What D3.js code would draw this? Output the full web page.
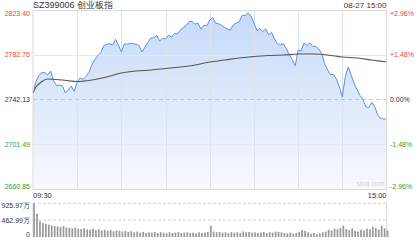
<!DOCTYPE html>
<html>
<head>
<meta charset="utf-8">
<script src="https://cdn.jsdelivr.net/npm/d3@7"></script>
<style>
  body { margin: 0; background: #fff; }
  svg { display: block; font-family: "Liberation Sans", Arial, sans-serif; }
</style>
</head>
<body>
<svg width="420" height="240"></svg>
<script>
// prices sampled every 2 trading minutes (09:30 .. 15:00)
var prices = [
  2748.02, 2758.45, 2763.90, 2766.62, 2766.53, 2764.35, 2767.98, 2759.27, 2754.65, 2755.28,
  2754.37, 2748.02, 2750.75, 2754.37, 2749.39, 2758.00, 2761.63, 2760.36, 2763.17, 2766.62,
  2773.87, 2778.32, 2782.03, 2784.75, 2791.01, 2792.19, 2792.74, 2791.56, 2796.73, 2791.65,
  2785.21, 2792.64, 2792.28, 2793.19, 2792.92, 2792.28, 2791.01, 2785.21, 2789.74, 2794.10,
  2797.90, 2798.18, 2800.17, 2795.27, 2797.90, 2797.09, 2800.44, 2798.81, 2802.08, 2801.53,
  2805.16, 2807.43, 2809.42, 2812.69, 2813.14, 2810.42, 2811.51, 2806.07, 2809.51, 2809.33,
  2814.23, 2816.50, 2811.51, 2810.87, 2809.51, 2807.52, 2806.07, 2805.16, 2809.88, 2811.51,
  2812.87, 2818.58, 2818.49, 2820.76, 2817.86, 2811.78, 2804.89, 2806.61, 2803.71, 2806.25,
  2800.99, 2803.07, 2797.00, 2792.74, 2792.01, 2792.74, 2788.38, 2782.67, 2778.41, 2772.69,
  2787.02, 2786.11, 2793.46, 2791.19, 2793.55, 2790.29, 2790.38, 2788.02, 2783.94, 2774.60,
  2768.88, 2764.62, 2764.98, 2760.63, 2753.74, 2744.40, 2762.72, 2771.60, 2764.26, 2756.82,
  2751.20, 2745.85, 2742.31, 2735.33, 2734.69, 2739.59, 2735.51, 2728.25, 2724.90, 2724.45,
  2724.45
];

// average price line, read at a few sample indexes
var avgIdx = [0, 1, 2, 3, 5, 10, 15, 20, 25, 30, 35, 40, 45, 50, 55, 60, 65, 70, 75, 80, 85, 90, 95, 100, 105, 110, 115, 120];
var avgVal = [2748.02, 2753.47, 2756.19, 2758.45, 2760.72, 2759.81, 2758.45, 2759.81, 2762.54, 2766.16,
  2767.98, 2768.88, 2770.24, 2771.60, 2773.42, 2776.14, 2777.95, 2779.77, 2781.13, 2782.03,
  2782.49, 2783.39, 2783.39, 2782.49, 2780.67, 2779.77, 2777.95, 2776.14];

// volume, 万
var volumes = [
  925.97, 640, 430, 380, 360, 340, 320, 300, 290, 270,
  300, 260, 250, 240, 260, 230, 220, 240, 210, 200,
  230, 190, 210, 180, 200, 170, 190, 160, 180, 170,
  150, 170, 140, 160, 130, 150, 120, 140, 110, 130,
  120, 140, 110, 130, 120, 100, 130, 110, 120, 140,
  110, 120, 130, 110, 120, 100, 130, 110, 120, 140,
  310, 150, 130, 140, 120, 130, 110, 140, 120, 130,
  110, 150, 130, 140, 120, 130, 110, 120, 140, 110,
  130, 120, 150, 140, 130, 110, 100, 120, 90, 110,
  140, 190, 170, 130, 90, 110, 80, 100, 130, 150,
  200, 180, 230, 210, 250, 310, 220, 190, 240, 170,
  150, 200, 180, 230, 210, 280, 250, 200, 310, 240,
  180
];

var basePrice = 2742.13;
var priceTicks = [2823.40, 2782.76, 2742.13, 2701.49, 2660.85];
var pctTicks = ["+2.96%", "+1.48%", "0.00%", "-1.48%", "-2.96%"];
var volTicks = [925.97, 462.99, 0];
var volLabels = ["925.97万", "462.99万", "0"];
var title = "SZ399006 创业板指";
var stamp = "08-27 15:00";

var svg = d3.select("svg");
var plotLeft = 33, plotRight = 386.5, plotTop = 10, plotBottom = 189;
var vTop = 203.3, vBottom = 237;

var x = d3.scaleLinear().domain([0, prices.length - 1]).range([plotLeft, plotRight]);
var y = d3.scaleLinear().domain([2660.85, 2823.40]).range([plotBottom, plotTop]);
var yv = d3.scaleLinear().domain([0, 925.97]).range([vBottom, vTop]);

function tickColor(i) {
  return i < 2 ? "#e8453c" : (i == 2 ? "#333" : "#2aa33a");
}

// gradient for area
var grad = svg.append("defs").append("linearGradient")
  .attr("id", "fillGrad").attr("x1", 0).attr("y1", 0).attr("x2", 0).attr("y2", 1);
grad.append("stop").attr("offset", "0%").attr("stop-color", "#c6daf8");
grad.append("stop").attr("offset", "100%").attr("stop-color", "#f7f9fe");

// area + price line
var area = d3.area()
  .x(function (d, i) { return x(i); })
  .y0(plotBottom)
  .y1(function (d) { return y(d); });
svg.append("path").datum(prices).attr("d", area).attr("fill", "url(#fillGrad)");

// grid
var grid = svg.append("g");
d3.range(1, 8).forEach(function (k) {
  var gx = Math.round(plotLeft + (plotRight - plotLeft) * k / 8) + 0.5;
  grid.append("line").attr("x1", gx).attr("x2", gx).attr("y1", plotTop).attr("y2", plotBottom)
    .attr("stroke", "#dde3ec").attr("stroke-width", 1);
});
priceTicks.forEach(function (p, i) {
  if (i == 0 || i == 4) return;
  grid.append("line").attr("x1", plotLeft).attr("x2", plotRight)
    .attr("y1", Math.round(y(p)) + 0.5).attr("y2", Math.round(y(p)) + 0.5)
    .attr("stroke", i == 2 ? "#c4c4c4" : "#e6e9ee")
    .attr("stroke-dasharray", i == 2 ? "4,3" : null);
});

var line = d3.line()
  .x(function (d, i) { return x(i); })
  .y(function (d) { return y(d); });
svg.append("path").datum(prices).attr("d", line)
  .attr("fill", "none").attr("stroke", "#5d8fe6").attr("stroke-width", 1);

var avgLine = d3.line()
  .curve(d3.curveMonotoneX)
  .x(function (d, i) { return x(avgIdx[i]); })
  .y(function (d) { return y(d); });
svg.append("path").datum(avgVal).attr("d", avgLine)
  .attr("fill", "none").attr("stroke", "#555").attr("stroke-width", 1.1);

// borders main panel
svg.append("rect").attr("x", plotLeft).attr("y", plotTop + 0.5).attr("width", plotRight - plotLeft).attr("height", plotBottom - plotTop)
  .attr("fill", "none").attr("stroke", "#dcdcdc");

// watermark
svg.append("text").attr("x", plotRight - 2).attr("y", plotBottom - 3).attr("text-anchor", "end")
  .attr("font-size", 7).attr("fill", "#d0d0d0").text("sina.com");

// left / right labels
priceTicks.forEach(function (p, i) {
  var ty = y(p) + 2.5;
  if (i == 0) ty += 3;
  if (i == 4) ty -= 3;
  svg.append("text").attr("x", 30).attr("y", ty).attr("text-anchor", "end")
    .attr("font-size", 7).attr("fill", tickColor(i)).text(p.toFixed(2));
  svg.append("text").attr("x", 390).attr("y", ty)
    .attr("font-size", 7).attr("fill", tickColor(i)).text(pctTicks[i]);
});

// header
svg.append("text").attr("x", plotLeft).attr("y", 8).attr("font-size", 9).attr("fill", "#333").text(title);
svg.append("text").attr("x", plotRight).attr("y", 8).attr("text-anchor", "end")
  .attr("font-size", 8).attr("fill", "#333").text(stamp);

// time labels
svg.append("text").attr("x", plotLeft).attr("y", 198).attr("font-size", 7.5).attr("fill", "#333").text("09:30");
svg.append("text").attr("x", plotRight).attr("y", 198).attr("text-anchor", "end")
  .attr("font-size", 7.5).attr("fill", "#333").text("15:00");

// volume panel
svg.append("line").attr("x1", plotLeft).attr("x2", plotRight).attr("y1", vTop).attr("y2", vTop)
  .attr("stroke", "#d0d0d0").attr("stroke-dasharray", "3,2");
svg.append("line").attr("x1", plotLeft).attr("x2", plotRight).attr("y1", yv(462.99)).attr("y2", yv(462.99))
  .attr("stroke", "#d0d0d0").attr("stroke-dasharray", "3,2");
svg.append("line").attr("x1", plotLeft).attr("x2", plotLeft).attr("y1", vTop).attr("y2", vBottom).attr("stroke", "#dcdcdc");
svg.append("line").attr("x1", plotRight).attr("x2", plotRight).attr("y1", vTop).attr("y2", vBottom).attr("stroke", "#dcdcdc");

svg.append("g").selectAll("rect").data(volumes).enter().append("rect")
  .attr("x", function (d, i) { return x(i) + 0.2; })
  .attr("width", 1.7)
  .attr("y", function (d) { return yv(d); })
  .attr("height", function (d) { return vBottom - yv(d); })
  .attr("fill", "#999");

volTicks.forEach(function (v, i) {
  var ty = yv(v) + 2.5;
  if (i == 0) ty += 2;
  if (i == 2) ty -= 3;
  svg.append("text").attr("x", 30).attr("y", ty).attr("text-anchor", "end")
    .attr("font-size", 7).attr("fill", "#333").text(volLabels[i]);
});
</script>
</body>
</html>
